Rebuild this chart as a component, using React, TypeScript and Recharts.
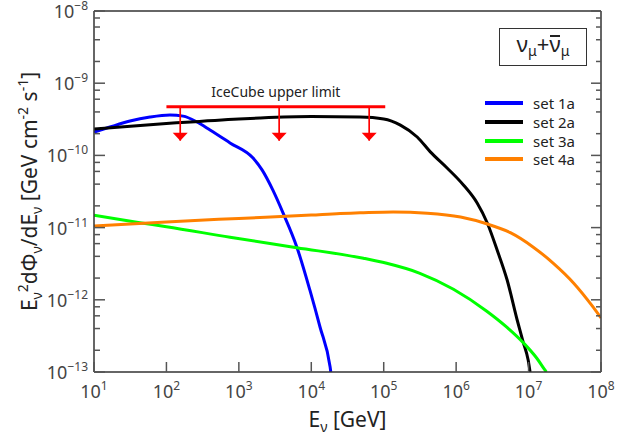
import React from "react";
import {
  LineChart,
  Line,
  XAxis,
  YAxis,
  Legend,
  ReferenceLine,
  ReferenceDot,
} from "recharts";

const FONT = '"Noto Sans", "DejaVu Sans", sans-serif';

// axis ticks
const xTicks = [1e1, 1e2, 1e3, 1e4, 1e5, 1e6, 1e7, 1e8];
const yMajor = [1e-13, 1e-12, 1e-11, 1e-10, 1e-9, 1e-8];
const yMinorSteps = [2, 4, 6, 8];
const yTicks = [
  ...yMajor,
  ...yMajor.slice(0, -1).flatMap((d) => yMinorSteps.map((m) => m * d)),
];

// set 1a (blue)
const set1aE = [10, 16.6, 31.4, 59.3, 112, 170, 265, 400, 755, 1570, 2090, 2950, 4070, 6310, 9550, 13200, 18200, 18600];
const set1aF = [2.1e-10, 2.47e-10, 2.99e-10, 3.4e-10, 3.63e-10, 3.5e-10, 2.9e-10, 2.25e-10, 1.49e-10, 9.2e-11, 6.3e-11, 3.3e-11, 1.6e-11, 5.4e-12, 1.37e-12, 4.2e-13, 1.17e-13, 1.0e-13];

// set 2a (black)
const set2aE = [10, 123, 1000, 1950, 1e4, 4.7e4, 1e5, 1.7e5, 2.9e5, 4.4e5, 7.5e5, 1.26e6, 1.95e6, 2.7e6, 3.68e6, 5.06e6, 6.96e6, 8.42e6, 9.87e6, 1.05e7];
const set2aF = [2.32e-10, 2.8e-10, 3.2e-10, 3.3e-10, 3.45e-10, 3.4e-10, 3.2e-10, 2.63e-10, 1.8e-10, 1.12e-10, 6.7e-11, 3.9e-11, 2.19e-11, 1.15e-11, 4.9e-12, 1.88e-12, 5.25e-13, 2.6e-13, 1.47e-13, 1.0e-13];

// set 3a (green)
const set3aE = [10, 43, 100, 755, 6310, 5.25e4, 1.1e5, 3.16e5, 9.18e5, 2.65e6, 5.0e6, 8.5e6, 1.3e7, 1.7e7, 1.76e7];
const set3aF = [1.48e-11, 1.17e-11, 1.03e-11, 7.35e-12, 5.27e-12, 3.76e-12, 3.2e-12, 2.33e-12, 1.4e-12, 6.95e-13, 4.18e-13, 2.53e-13, 1.55e-13, 1.05e-13, 1.0e-13];

// set 4a (orange)
const set4aE = [10, 100, 1000, 1e4, 2.5e4, 4.7e4, 1.35e5, 4e5, 1.15e6, 2.7e6, 5.6e6, 1.15e7, 2.2e7, 4.2e7, 7.8e7, 1e8];
const set4aF = [1.05e-11, 1.2e-11, 1.34e-11, 1.49e-11, 1.57e-11, 1.6e-11, 1.64e-11, 1.58e-11, 1.4e-11, 1.12e-11, 8.5e-12, 5.4e-12, 3.2e-12, 1.7e-12, 7.9e-13, 5.6e-13];

// IceCube upper limit
const limitE = [100, 1.05e5];
const limitFlux = 4.73e-10;
const arrowE = [155, 3600, 63000];
const arrowTipFlux = 1.6e-10;

const toPoints = (e: number[], f: number[]) => e.map((x, i) => ({ x, y: f[i] }));

const series = [
  { name: "set 1a", color: "#0000ff", data: toPoints(set1aE, set1aF) },
  { name: "set 2a", color: "#000000", data: toPoints(set2aE, set2aF) },
  { name: "set 3a", color: "#00ff00", data: toPoints(set3aE, set3aF) },
  { name: "set 4a", color: "#ff8000", data: toPoints(set4aE, set4aF) },
];

const TICK_COLOR = "#555";
const LABEL_COLOR = "#444";

const isMajor = (v: number) => {
  const l = Math.log10(v);
  return Math.abs(l - Math.round(l)) < 1e-6;
};

function BottomTick({ x, y, payload }: any) {
  const exp = Math.round(Math.log10(payload.value));
  return (
    <g>
      <line x1={x} y1={y} x2={x} y2={y - 10} stroke={TICK_COLOR} strokeWidth={1.5} />
      <text x={x} y={y + 26} textAnchor="middle" fontSize={18} fill={LABEL_COLOR} fontFamily={FONT}>
        10<tspan dy={-8} fontSize={12}>{exp}</tspan>
      </text>
    </g>
  );
}

function TopTick({ x, y }: any) {
  return <line x1={x} y1={y} x2={x} y2={y + 10} stroke={TICK_COLOR} strokeWidth={1.5} />;
}

function LeftTick({ x, y, payload }: any) {
  const major = isMajor(payload.value);
  const exp = Math.round(Math.log10(payload.value));
  return (
    <g>
      <line x1={x} y1={y} x2={x + (major ? 11 : 6)} y2={y} stroke={TICK_COLOR} strokeWidth={1.5} />
      {major && (
        <text x={x - 6} y={y + 7} textAnchor="end" fontSize={18} fill={LABEL_COLOR} fontFamily={FONT}>
          10<tspan dy={-8} fontSize={12}>{"\u2212" + Math.abs(exp)}</tspan>
        </text>
      )}
    </g>
  );
}

function RightTick({ x, y, payload }: any) {
  const major = isMajor(payload.value);
  return <line x1={x} y1={y} x2={x - (major ? 10 : 5)} y2={y} stroke={TICK_COLOR} strokeWidth={1.5} />;
}

function ArrowHead({ cx, cy }: any) {
  return <polygon points={`${cx - 7.5},${cy - 8} ${cx + 7.5},${cy - 8} ${cx},${cy}`} fill="#ff0000" />;
}

function XLabel({ viewBox }: any) {
  const cx = viewBox.x + viewBox.width / 2;
  return (
    <text x={cx} y={viewBox.y + 55} textAnchor="middle" fontSize={21} fill="#222" fontFamily={FONT}>
      E<tspan dy={5} fontSize={14}>ν</tspan>
      <tspan dy={-5}>{" [GeV]"}</tspan>
    </text>
  );
}

function YLabel({ viewBox }: any) {
  const cx = viewBox.x + 37;
  const cy = viewBox.y + viewBox.height / 2;
  return (
    <text
      transform={`translate(${cx},${cy}) rotate(-90)`}
      textAnchor="middle"
      fontSize={21}
      fill="#222"
      fontFamily={FONT}
    >
      E<tspan dy={5} fontSize={14}>ν</tspan>
      <tspan dy={-14} fontSize={14}>2</tspan>
      <tspan dy={9}>dΦ</tspan>
      <tspan dy={5} fontSize={14}>ν</tspan>
      <tspan dy={-5}>/dE</tspan>
      <tspan dy={5} fontSize={14}>ν</tspan>
      <tspan dy={-5}>{" [GeV cm"}</tspan>
      <tspan dy={-9} fontSize={14}>-2</tspan>
      <tspan dy={9}>{" s"}</tspan>
      <tspan dy={-9} fontSize={14}>-1</tspan>
      <tspan dy={9}>]</tspan>
    </text>
  );
}

function LegendBox({ payload }: any) {
  return (
    <div style={{ fontFamily: FONT, fontSize: 15, color: "#222" }}>
      {(payload || []).map((p: any) => (
        <div key={p.value} style={{ display: "flex", alignItems: "center", height: 18.7 }}>
          <span style={{ display: "inline-block", width: 38, height: 4, background: p.color, marginRight: 10 }} />
          <span>{p.value}</span>
        </div>
      ))}
    </div>
  );
}

export default function App() {
  return (
    <div style={{ position: "absolute", left: 0, top: 0, width: 633, height: 436 }}>
      <LineChart width={633} height={436} margin={{ top: 0, right: 0, bottom: 0, left: 0 }}>
        <XAxis
          xAxisId="top"
          orientation="top"
          type="number"
          scale="log"
          domain={[1e1, 1e8]}
          allowDataOverflow
          ticks={xTicks}
          interval={0}
          height={11}
          tickSize={0}
          tickMargin={0}
          tick={<TopTick />}
          axisLine={{ stroke: "#333", strokeWidth: 1.5 }}
        />
        <XAxis
          dataKey="x"
          type="number"
          scale="log"
          domain={[1e1, 1e8]}
          allowDataOverflow
          ticks={xTicks}
          interval={0}
          height={64}
          tickSize={0}
          tickMargin={0}
          tick={<BottomTick />}
          axisLine={{ stroke: "#333", strokeWidth: 1.5 }}
          label={XLabel}
        />
        <YAxis
          type="number"
          scale="log"
          domain={[1e-13, 1e-8]}
          allowDataOverflow
          ticks={yTicks}
          interval={0}
          width={94}
          tickSize={0}
          tickMargin={0}
          tick={<LeftTick />}
          axisLine={{ stroke: "#333", strokeWidth: 1.5 }}
          label={YLabel}
        />
        <YAxis
          yAxisId="right"
          orientation="right"
          type="number"
          scale="log"
          domain={[1e-13, 1e-8]}
          allowDataOverflow
          ticks={yTicks}
          interval={0}
          width={32}
          tickSize={0}
          tickMargin={0}
          tick={<RightTick />}
          axisLine={{ stroke: "#333", strokeWidth: 1.5 }}
        />
        {series.map((s) => (
          <Line
            key={s.name}
            data={s.data}
            dataKey="y"
            name={s.name}
            type="monotone"
            stroke={s.color}
            strokeWidth={3}
            dot={false}
            isAnimationActive={false}
          />
        ))}
        <ReferenceLine
          segment={[
            { x: limitE[0], y: limitFlux },
            { x: limitE[1], y: limitFlux },
          ]}
          stroke="#ff0000"
          strokeWidth={3}
          label={{
            value: "IceCube upper limit",
            position: "top",
            offset: 10,
            fill: "#222",
            fontSize: 14,
            fontFamily: FONT,
          }}
        />
        {arrowE.map((e) => (
          <ReferenceLine
            key={"stem" + e}
            segment={[
              { x: e, y: limitFlux },
              { x: e, y: arrowTipFlux },
            ]}
            stroke="#ff0000"
            strokeWidth={1.7}
          />
        ))}
        {arrowE.map((e) => (
          <ReferenceDot key={"head" + e} x={e} y={arrowTipFlux} shape={ArrowHead} />
        ))}
        <Legend
          layout="vertical"
          align="center"
          verticalAlign="middle"
          wrapperStyle={{ left: 485, top: 94, width: "auto", height: "auto" }}
          content={LegendBox}
        />
      </LineChart>
      <div
        style={{
          position: "absolute",
          left: 499,
          top: 28,
          width: 86,
          height: 36,
          border: "1.2px solid #333",
          display: "flex",
          alignItems: "center",
          justifyContent: "center",
          fontFamily: FONT,
          fontSize: 22,
          lineHeight: "30px",
          color: "#222",
        }}
      >
        <span>
          ν<sub style={{ fontSize: 14, verticalAlign: -4 }}>μ</sub>+
          <span style={{ position: "relative", display: "inline-block" }}>
            ν
            <span
              style={{
                position: "absolute",
                left: 1,
                right: 1,
                top: 7,
                height: 1.6,
                background: "#222",
              }}
            />
          </span>
          <sub style={{ fontSize: 14, verticalAlign: -4 }}>μ</sub>
        </span>
      </div>
    </div>
  );
}
